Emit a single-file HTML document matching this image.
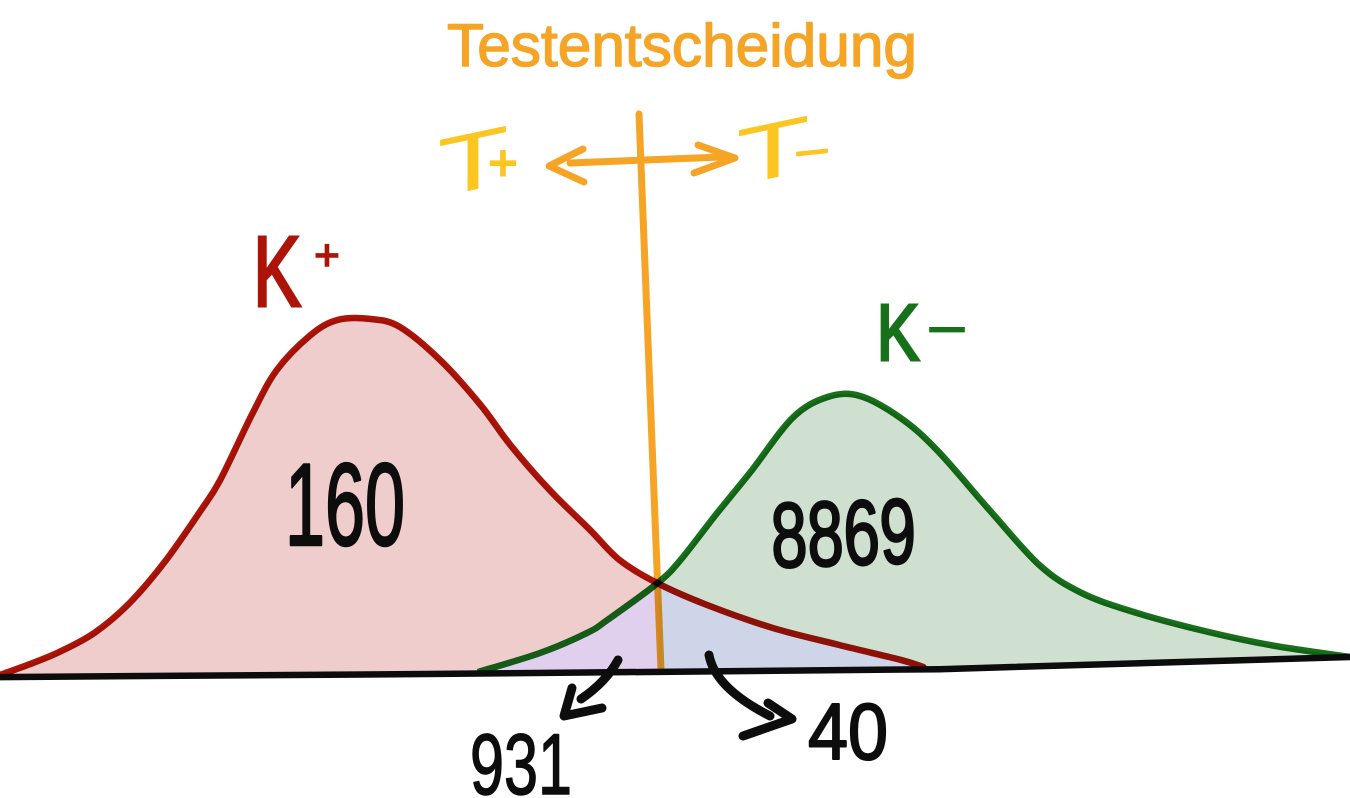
<!DOCTYPE html>
<html lang="de">
<head>
<meta charset="utf-8">
<title>Testentscheidung</title>
<style>
  html, body { margin: 0; padding: 0; background: #fff; }
  svg { display: block; font-family: "Liberation Sans", sans-serif; }
  .lbl-black { fill: #0d0d0d; stroke: #0d0d0d; stroke-linejoin: round; }
  .mult { mix-blend-mode: multiply; }
</style>
</head>
<body>
<svg id="chart" xmlns="http://www.w3.org/2000/svg" width="1350" height="798" viewBox="0 0 1350 798">
  <defs>
    <clipPath id="clip-kplus"><path id="clip-kplus-path"></path></clipPath>
    <clipPath id="clip-kminus"><path id="clip-kminus-path"></path></clipPath>
  </defs>
  <g id="areas"></g>
  <g id="overlap" clip-path="url(#clip-kplus)">
    <g id="overlap-inner" clip-path="url(#clip-kminus)"></g>
  </g>

  <line class="mult" x1="639" y1="114" x2="661" y2="670" stroke="#f5a425" stroke-width="7" stroke-linecap="round"/>
  <g id="curves"></g>
  <path id="baseline" fill="none" stroke="#0c0c0c" stroke-width="6.5"></path>

  <text x="447" y="66" font-size="60" textLength="470" lengthAdjust="spacingAndGlyphs" fill="#f5a425" stroke="#f5a425" stroke-width="1.4" stroke-linejoin="round">Testentscheidung</text>

  <text transform="translate(473,190) skewY(-12) scale(1.4,1)" text-anchor="middle" font-size="83" fill="#fcc622">T</text>
  <text x="503" y="180" text-anchor="middle" font-size="50" fill="#fcc622" stroke="#fcc622" stroke-width="2">+</text>
  <text transform="translate(773,178) skewY(-12) scale(1.5,1)" text-anchor="middle" font-size="80" fill="#fcc622">T</text>
  <text transform="translate(812,163) skewY(-6) scale(2.8,1)" text-anchor="middle" font-size="40" fill="#fcc622" stroke="#fcc622" stroke-width="1.5">-</text>

  <g fill="none" stroke="#f5a425" stroke-width="7" stroke-linecap="round" stroke-linejoin="round">
    <path d="M570,163 L722,157"/>
    <path d="M583,149 L549,166 L584,182"/>
    <path d="M698,145 L735,158 L694,173"/>
  </g>

  <text transform="translate(277,306) scale(0.72,1)" text-anchor="middle" font-size="100" fill="#ad1408" stroke="#ad1408" stroke-width="3">K</text>
  <text x="327" y="270" text-anchor="middle" font-size="44" fill="#ad1408" stroke="#ad1408" stroke-width="1.5">+</text>
  <text transform="translate(898,360) scale(0.8,1)" text-anchor="middle" font-size="80" fill="#17701a" stroke="#17701a" stroke-width="3">K</text>
  <text transform="translate(947,343) scale(2.6,1)" text-anchor="middle" font-size="50" fill="#17701a" stroke="#17701a" stroke-width="1.5">-</text>

  <text class="lbl-black" x="285" y="545" font-size="117" textLength="120" lengthAdjust="spacingAndGlyphs" stroke-width="2.5">160</text>
  <text class="lbl-black" transform="rotate(-2 845 565)" x="772" y="565" font-size="92" textLength="145" lengthAdjust="spacingAndGlyphs" stroke-width="2.5">8869</text>
  <text class="lbl-black" x="470" y="794" font-size="86" textLength="102" lengthAdjust="spacingAndGlyphs" stroke-width="1.5">931</text>
  <text class="lbl-black" x="808" y="759" font-size="80" textLength="80" lengthAdjust="spacingAndGlyphs" stroke-width="2">40</text>

  <g fill="none" stroke="#0d0d0d" stroke-width="9" stroke-linecap="round" stroke-linejoin="round">
    <path d="M618,660 Q606,682 581,699"/>
    <path d="M572,688 L564,716 L602,708"/>
    <path d="M709,655 Q715,688 770,716"/>
    <path d="M768,703 L792,719 L743,736"/>
  </g>
</svg>
<script>
// Score axis runs 0-100 across the picture, density 0-100 at roughly the K+ peak.
const kPlusScores  = [0, 2.2, 4.4, 7.0, 9.6, 12.2, 14.8, 16.3, 18.7, 20.5, 23, 25, 27.4, 29.6, 32.6, 35.6, 37.8, 40.7, 43.7, 45.9, 48.7, 52.4, 57.3, 62.2, 66.7, 68.4];
const kPlusDensity = [1.4, 4.4, 7.8, 13.1, 21.4, 32.8, 46.7, 55.5, 74, 86.1, 95.8, 100, 100.3, 98.1, 88.9, 76.4, 65.3, 52.8, 41.7, 33.3, 26.9, 20.8, 14.4, 9.7, 5.6, 3.6];
const kMinusScores  = [35.4, 40, 43.5, 45, 48.7, 50.4, 53, 55.6, 58.7, 61.3, 63.7, 66.7, 69.4, 73.3, 77, 80, 83.7, 88.9, 94.1, 100];
const kMinusDensity = [2.2, 7.5, 13.1, 16.7, 26.9, 33.3, 45.8, 57.8, 72.8, 78.6, 78.9, 72.8, 63.9, 47.2, 31.9, 24.4, 19.2, 13.9, 9.7, 6.4];
const baselineScores  = [0, 32.6, 69.6, 100];
const baselineDensity = [0.8, 1.7, 3.0, 6.4];
const thresholdScore = 48.8;

const NS = 'http://www.w3.org/2000/svg';
function xScale(v) { return v * 13.5; }
function yScale(v) { return 680 - v * 3.6; }

function baselineAt(s) {
  for (let i = 0; i < baselineScores.length - 1; i++) {
    if (s <= baselineScores[i + 1]) {
      const t = (s - baselineScores[i]) / (baselineScores[i + 1] - baselineScores[i]);
      return baselineDensity[i] + t * (baselineDensity[i + 1] - baselineDensity[i]);
    }
  }
  return baselineDensity[baselineDensity.length - 1];
}

function smoothPath(xs, ys) {
  const p = xs.map((s, i) => [xScale(s), yScale(ys[i])]);
  let d = 'M' + p[0][0].toFixed(1) + ',' + p[0][1].toFixed(1);
  for (let i = 0; i < p.length - 1; i++) {
    const a = p[Math.max(i - 1, 0)], b = p[i], c = p[i + 1], e = p[Math.min(i + 2, p.length - 1)];
    d += ' C' + (b[0] + (c[0] - a[0]) / 6).toFixed(1) + ',' + (b[1] + (c[1] - a[1]) / 6).toFixed(1) +
         ' ' + (c[0] - (e[0] - b[0]) / 6).toFixed(1) + ',' + (c[1] - (e[1] - b[1]) / 6).toFixed(1) +
         ' ' + c[0].toFixed(1) + ',' + c[1].toFixed(1);
  }
  return d;
}

function areaPath(xs, ys) {
  const first = xs[0], last = xs[xs.length - 1];
  let d = smoothPath(xs, ys);
  d += ' L' + xScale(last).toFixed(1) + ',' + yScale(baselineAt(last)).toFixed(1);
  for (let i = baselineScores.length - 1; i >= 0; i--) {
    if (baselineScores[i] > first && baselineScores[i] < last) {
      d += ' L' + xScale(baselineScores[i]).toFixed(1) + ',' + yScale(baselineDensity[i]).toFixed(1);
    }
  }
  d += ' L' + xScale(first).toFixed(1) + ',' + yScale(baselineAt(first)).toFixed(1) + ' Z';
  return d;
}

const areas = document.getElementById('areas');
const curves = document.getElementById('curves');
const overlapInner = document.getElementById('overlap-inner');

const kPlusAreaD = areaPath(kPlusScores, kPlusDensity);
const kMinusAreaD = areaPath(kMinusScores, kMinusDensity);
document.getElementById('clip-kplus-path').setAttribute('d', kPlusAreaD);
document.getElementById('clip-kminus-path').setAttribute('d', kMinusAreaD);

const kPlusArea = document.createElementNS(NS, 'path');


kPlusArea.setAttribute('d', kPlusAreaD);
kPlusArea.setAttribute('fill', '#eecdcc');
areas.appendChild(kPlusArea);

const kMinusArea = document.createElementNS(NS, 'path');


kMinusArea.setAttribute('d', kMinusAreaD);
kMinusArea.setAttribute('fill', '#cfe0d0');
areas.appendChild(kMinusArea);

const overlapLeft = document.createElementNS(NS, 'rect');


overlapLeft.setAttribute('x', 0);
overlapLeft.setAttribute('y', 0);
overlapLeft.setAttribute('width', xScale(thresholdScore));
overlapLeft.setAttribute('height', 798);
overlapLeft.setAttribute('fill', '#e0d0ee');
overlapInner.appendChild(overlapLeft);

const overlapRight = document.createElementNS(NS, 'rect');


overlapRight.setAttribute('x', xScale(thresholdScore));
overlapRight.setAttribute('y', 0);
overlapRight.setAttribute('width', 1350 - xScale(thresholdScore));
overlapRight.setAttribute('height', 798);
overlapRight.setAttribute('fill', '#ced5e8');
overlapInner.appendChild(overlapRight);

const kMinusCurve = document.createElementNS(NS, 'path');


kMinusCurve.setAttribute('d', smoothPath(kMinusScores, kMinusDensity));
kMinusCurve.setAttribute('fill', 'none');
kMinusCurve.setAttribute('stroke', '#17701a');
kMinusCurve.setAttribute('stroke-width', '6.5');
kMinusCurve.setAttribute('class', 'mult');
curves.appendChild(kMinusCurve);

const kPlusCurve = document.createElementNS(NS, 'path');


kPlusCurve.setAttribute('d', smoothPath(kPlusScores, kPlusDensity));
kPlusCurve.setAttribute('fill', 'none');
kPlusCurve.setAttribute('stroke', '#ad1408');
kPlusCurve.setAttribute('stroke-width', '6.5');
kPlusCurve.setAttribute('stroke-linecap', 'round');
kPlusCurve.setAttribute('class', 'mult');
curves.appendChild(kPlusCurve);

document.getElementById('baseline').setAttribute('d', baselineScores.map(function (s, i) {
  return (i ? 'L' : 'M') + xScale(s).toFixed(1) + ',' + yScale(baselineDensity[i]).toFixed(1);
}).join(' '));
</script>
</body>
</html>
